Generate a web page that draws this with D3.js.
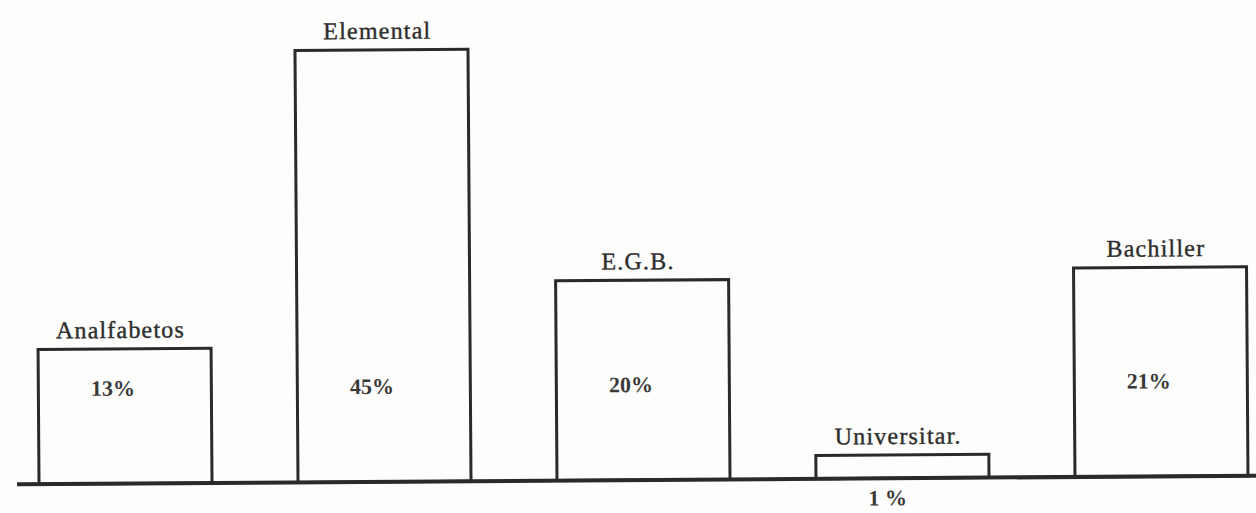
<!DOCTYPE html>
<html>
<head>
<meta charset="utf-8">
<script src="https://cdn.jsdelivr.net/npm/d3@7/dist/d3.min.js"></script>
<style>
  html, body { margin: 0; padding: 0; background: #fdfdfb; }
  svg { display: block; }
</style>
</head>
<body>
<svg id="chart"></svg>
<script>
// data
const categories = ["Analfabetos", "Elemental", "E.G.B.", "Universitar.", "Bachiller"];
const values = [13, 45, 20, 1, 21];
const valueLabels = ["13%", "45%", "20%", "1 %", "21%"];

const width = 1256;
const height = 513;
const baseY = 480;
const ink = "#2a2a2a";

const svg = d3.select("#chart")
    .attr("width", width)
    .attr("height", height);

// the scan is slightly tilted
const g = svg.append("g")
    .attr("transform", `rotate(-0.4, 640, ${baseY})`);

const x = d3.scaleBand()
    .domain(categories)
    .range([39, 1248])
    .paddingInner(0.332)
    .paddingOuter(0);

// small floor under zero so the 1% bar is still visible, as in the original
const y = d3.scaleLinear()
    .domain([-1.5, 45])
    .range([baseY, 48]);

const data = categories.map((c, i) => ({ cat: c, value: values[i], label: valueLabels[i] }));

g.selectAll("rect.bar")
    .data(data)
    .join("rect")
    .attr("class", "bar")
    .attr("x", d => x(d.cat))
    .attr("y", d => y(d.value))
    .attr("width", x.bandwidth())
    .attr("height", d => baseY - y(d.value))
    .attr("fill", "none")
    .attr("stroke", ink)
    .attr("stroke-width", 3);

// base line
g.append("line")
    .attr("x1", 17)
    .attr("x2", width + 10)
    .attr("y1", baseY)
    .attr("y2", baseY)
    .attr("stroke", ink)
    .attr("stroke-width", 4);

// category names above the bars
g.selectAll("text.cat")
    .data(data)
    .join("text")
    .attr("class", "cat")
    .attr("x", d => x(d.cat) + x.bandwidth() / 2 - 4)
    .attr("y", d => y(d.value) - 11)
    .attr("text-anchor", "middle")
    .attr("font-family", "'Liberation Serif', 'DejaVu Serif', serif")
    .attr("font-size", 24)
    .attr("letter-spacing", 1.2)
    .attr("fill", "#2e2e2e")
    .attr("stroke", "#2e2e2e")
    .attr("stroke-width", 0.4)
    .text(d => d.cat);

// percentages: inside the bar, or under the axis when the bar is too short
g.selectAll("text.val")
    .data(data)
    .join("text")
    .attr("class", "val")
    .attr("x", d => x(d.cat) + x.bandwidth() / 2 + (d.value < 5 ? -15 : -12))
    .attr("y", d => d.value < 5 ? baseY + 27 : baseY - 88)
    .attr("text-anchor", "middle")
    .attr("font-family", "'Liberation Serif', 'DejaVu Serif', serif")
    .attr("font-size", 22)
    .attr("font-weight", "bold")
    .attr("fill", "#3a3a3a")
    .text(d => d.label);
</script>
</body>
</html>
